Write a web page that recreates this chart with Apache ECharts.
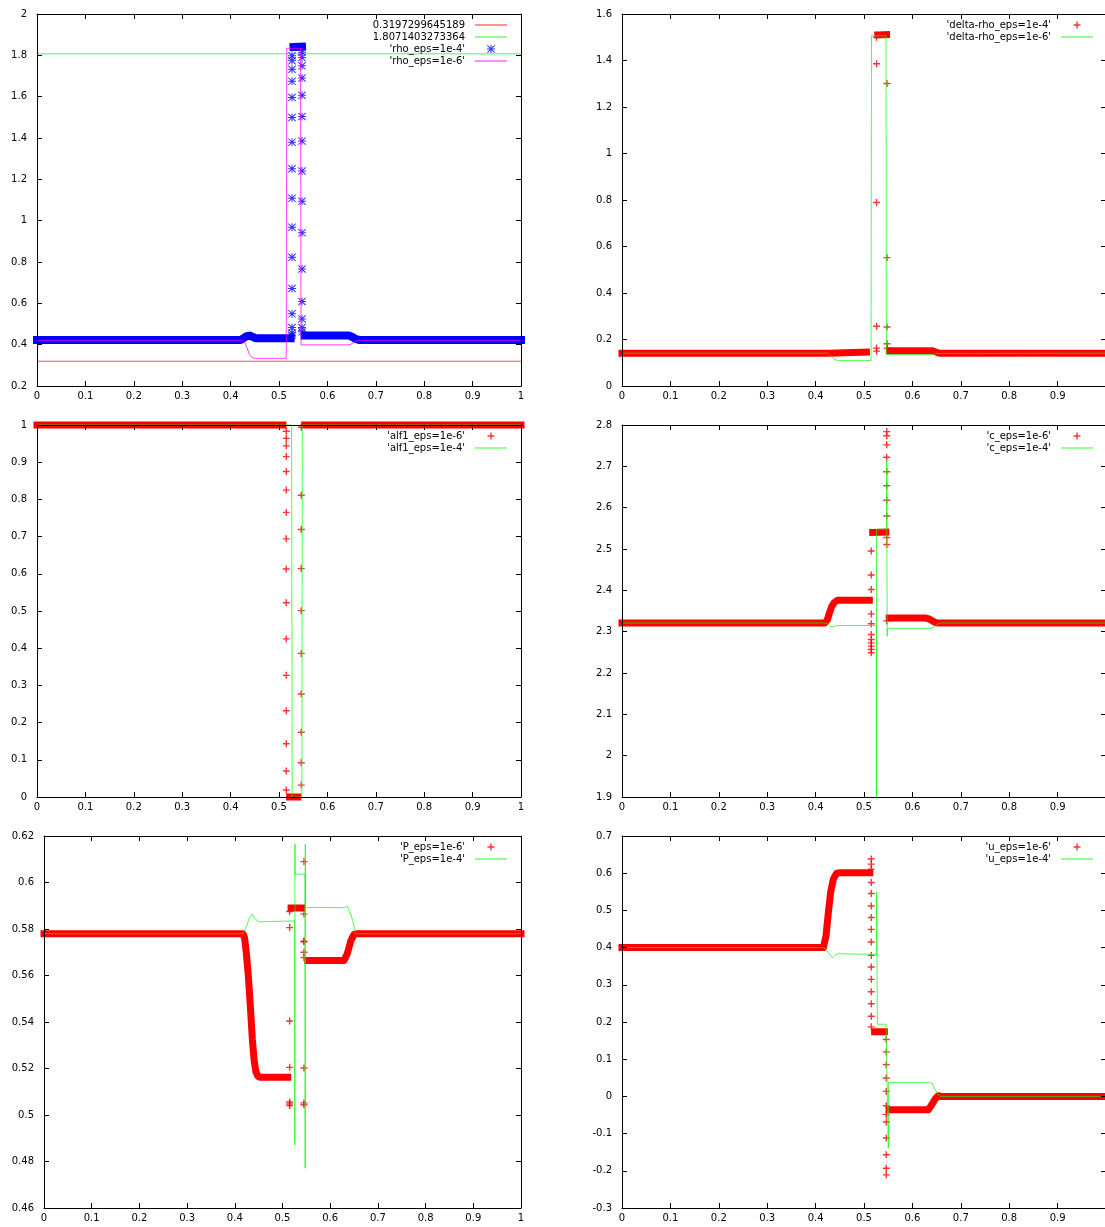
<!DOCTYPE html>
<html>
<head>
<meta charset="utf-8">
<title>eps comparison</title>
<script src="https://cdn.jsdelivr.net/npm/echarts@6.0.0/dist/echarts.min.js"></script>
<style>
html,body{margin:0;padding:0;background:#ffffff;}
#chart{width:1105px;height:1227px;}
</style>
</head>
<body>
<div id="chart"></div>
<script>
// ---------- axis ranges [min, max, interval] ----------
const xRange = [0, 1, 0.1];
const rhoRange = [0.2, 2, 0.2];
const drhoRange = [0, 1.6, 0.2];
const alfRange = [0, 1, 0.1];
const cRange = [1.9, 2.8, 0.1];
const pRange = [0.46, 0.62, 0.02];
const uRange = [-0.3, 0.7, 0.1];

// ---------- panel 1 : rho ----------
const rhoConstLow = 0.3197299645189;
const rhoConstHigh = 1.8071403273364;
const rho4BandLeft = [[0,0.423],[0.421,0.423],[0.427,0.432],[0.433,0.441],[0.44,0.444],[0.446,0.437],[0.452,0.431],[0.524,0.431]];
const rho4BandTop = [[0.530,1.84],[0.5475,1.842]];
const rho4BandRight = [[0.553,0.444],[0.645,0.444],[0.652,0.437],[0.658,0.428],[0.665,0.423],[1,0.423]];
const rho4ColLeftX = 0.527;
const rho4ColLeftY = [1.798,1.774,1.733,1.674,1.596,1.499,1.380,1.251,1.108,0.968,0.823,0.672,0.549,0.483,0.457,0.445];
const rho4ColRightX = 0.5475;
const rho4ColRightY = [1.815,1.790,1.749,1.690,1.607,1.504,1.385,1.240,1.094,0.941,0.766,0.609,0.524,0.483,0.462];
const rho6Line = [[0,0.421],[0.424,0.421],[0.429,0.412],[0.434,0.385],[0.439,0.352],[0.444,0.338],[0.45,0.334],[0.515,0.334],[0.516,1.834],[0.5445,1.834],[0.5455,0.399],[0.641,0.399],[0.647,0.401],[0.653,0.408],[0.659,0.416],[0.665,0.421],[1,0.421]];

// ---------- panel 2 : delta-rho ----------
const drho4BandLeft = [[0,0.141],[0.427,0.141],[0.43,0.146],[0.505,0.146]];
const drho4BandTop = [[0.5285,1.51],[0.5465,1.511]];
const drho4BandRight = [[0.5525,0.152],[0.64,0.152],[0.646,0.148],[0.652,0.143],[0.658,0.141],[1,0.141]];
const drho4ColLeftX = 0.526;
const drho4ColLeftY = [1.50,1.386,0.789,0.257,0.163,0.15];
const drho4ColRightX = 0.5475;
const drho4ColRightY = [1.301,0.552,0.254,0.182,0.163];
const drho6Line = [[0,0.141],[0.425,0.141],[0.429,0.137],[0.434,0.124],[0.439,0.114],[0.445,0.11],[0.5145,0.11],[0.5155,1.506],[0.5455,1.506],[0.5462,0.135],[0.64,0.135],[0.646,0.137],[0.652,0.14],[1,0.141]];

// ---------- panel 3 : alf1 ----------
const alf6BandLeft = [[0,1],[0.508,1]];
const alf6BandBottom = [[0.522,0],[0.539,0]];
const alf6BandRight = [[0.553,1],[1,1]];
const alf6ColLeftX = 0.515;
const alf6ColLeftY = [0.983,0.964,0.944,0.915,0.875,0.825,0.765,0.694,0.613,0.522,0.425,0.327,0.232,0.143,0.070,0.019];
const alf6ColRightX = 0.546;
const alf6ColRightY = [0.994,0.811,0.719,0.614,0.501,0.386,0.277,0.174,0.092,0.032];
const alf4Line = [[0,1],[0.526,1],[0.5272,0],[0.5472,0],[0.5482,1],[1,1]];

// ---------- panel 4 : c ----------
const c6BandLeft = [[0,2.321],[0.419,2.321],[0.424,2.328],[0.428,2.343],[0.433,2.36],[0.438,2.37],[0.445,2.376],[0.511,2.376]];
const c6BandTop = [[0.518,2.54],[0.545,2.541]];
const c6BandRight = [[0.552,2.333],[0.628,2.333],[0.634,2.331],[0.640,2.327],[0.646,2.323],[0.651,2.321],[1,2.321]];
const c6ColLeftX = 0.515;
const c6ColLeftY = [2.495,2.437,2.402,2.343,2.319,2.293,2.281,2.273,2.265,2.257,2.249];
const c6ColRightX = 0.547;
const c6ColRightY = [2.784,2.774,2.752,2.722,2.687,2.653,2.618,2.580,2.528,2.511,2.326];
const c4Line = [[0,2.321],[0.42,2.321],[0.426,2.318],[0.431,2.312],[0.436,2.311],[0.441,2.314],[0.447,2.315],[0.5255,2.315],[0.5257,1.85],[0.5259,2.548],[0.5467,2.548],[0.547,2.713],[0.5478,2.289],[0.5482,2.308],[0.638,2.308],[0.645,2.311],[0.652,2.318],[0.658,2.321],[1,2.321]];

// ---------- panel 5 : P ----------
const p6BandLeft = [[0,0.578],[0.417,0.578],[0.4205,0.5762],[0.4245,0.569],[0.4285,0.5595],[0.4326,0.5468],[0.4368,0.5325],[0.4405,0.5235],[0.444,0.5188],[0.4486,0.5166],[0.453,0.5162],[0.511,0.5162]];
const p6BandTop = [[0.518,0.589],[0.540,0.589]];
const p6BandRight = [[0.553,0.5665],[0.629,0.5665],[0.636,0.5695],[0.643,0.5748],[0.65,0.5777],[0.657,0.578],[1,0.578]];
const p6ColLeftX = 0.515;
const p6ColLeftY = [0.5875,0.5806,0.5404,0.5205,0.5056,0.5048,0.5041];
const p6ColRightX = 0.545;
const p6ColRightY = [0.609,0.5864,0.5748,0.5745,0.570,0.5677,0.5202,0.5052,0.5044];
const p4Line = [[0,0.578],[0.4174,0.578],[0.4243,0.5811],[0.4313,0.585],[0.4368,0.5864],[0.4417,0.5845],[0.4507,0.5831],[0.5255,0.5835],[0.5258,0.4872],[0.5261,0.6166],[0.5264,0.6036],[0.5472,0.6036],[0.5475,0.4771],[0.5478,0.6166],[0.5481,0.5893],[0.629,0.5892],[0.636,0.5898],[0.641,0.5875],[0.6465,0.5842],[0.6535,0.578],[1,0.578]];

// ---------- panel 6 : u ----------
const u6BandLeft = [[0,0.4],[0.416,0.4],[0.4215,0.431],[0.4263,0.494],[0.431,0.548],[0.4366,0.584],[0.4435,0.6],[0.4504,0.601],[0.512,0.601]];
const u6BandMid = [[0.522,0.1736],[0.542,0.1736]];
const u6BandRight = [[0.552,-0.0358],[0.633,-0.0358],[0.64,-0.0224],[0.647,-0.007],[0.6535,0.0019],[0.658,0],[1,0]];
const u6ColLeftX = 0.515;
const u6ColLeftY = [0.638,0.6245,0.611,0.575,0.5456,0.512,0.481,0.449,0.415,0.379,0.348,0.3146,0.2814,0.249,0.2156,0.187];
const u6ColRightX = 0.546;
const u6ColRightY = [0.153,0.1196,0.0854,0.0495,0.0135,-0.025,-0.049,-0.069,-0.112,-0.157,-0.193,-0.211];
const u4Line = [[0,0.4],[0.416,0.4],[0.422,0.395],[0.428,0.383],[0.4353,0.373],[0.441,0.38],[0.449,0.3846],[0.456,0.383],[0.526,0.382],[0.5262,0.55],[0.5276,0.194],[0.5455,0.194],[0.547,0.19],[0.5503,-0.139],[0.5506,0.0377],[0.633,0.0377],[0.6365,0.040],[0.641,0.035],[0.647,0.018],[0.653,0.005],[0.658,0],[1,0]];

// ---------- styling / layout ----------
const FONT = 'DejaVu Sans';
const RED = '#ff0000';
const BLUE = '#0000ff';
const THIN_RED = 'rgba(255,0,0,0.7)';
const THIN_GREEN = 'rgba(0,255,0,0.7)';
const THIN_MAGENTA = 'rgba(255,0,255,0.75)';
const PLUS = 'path://M0,2.8H7V4.2H0Z M2.8,0H4.2V7H2.8Z';
const STAR = 'path://M0,3.5H8V4.5H0Z M3.5,0H4.5V8H3.5Z M0.7,0L8,7.3L7.3,8L0,0.7Z M7.3,0L8,0.7L0.7,8L0,7.3Z';
const LINE_ICON = 'path://M0,0H32V1.2H0Z';

const grids = [
  {left:37, top:14, width:484, height:372},
  {left:622, top:14, width:484, height:372},
  {left:37, top:425, width:484, height:372},
  {left:622, top:425, width:484, height:372},
  {left:44, top:836, width:477, height:372},
  {left:622, top:836, width:484, height:372}
];
const yRanges = [rhoRange, drhoRange, alfRange, cRange, pRange, uRange];
const rightSide = [false, true, false, true, false, true];

const xAxes = [], yAxes = [];
grids.forEach((g, i) => {
  const common = {
    type:'value', gridIndex:i, z:10,
    splitLine:{show:false},
    axisLine:{show:true, onZero:false, lineStyle:{color:'#000', width:1}},
    axisTick:{show:true, inside:true, length:5, lineStyle:{color:'#000', width:1}}
  };
  const lab = {color:'#000', fontFamily:FONT, fontSize:10};
  const xc = Object.assign({}, common, {min:xRange[0], max:xRange[1], interval:xRange[2]});
  xAxes.push(Object.assign({}, xc, {position:'bottom',
    axisLabel:Object.assign({show:true, margin:5, showMinLabel:true, showMaxLabel:!rightSide[i]}, lab)}));
  xAxes.push(Object.assign({}, xc, {position:'top', axisLabel:{show:false}}));
  const r = yRanges[i];
  const yc = Object.assign({}, common, {min:r[0], max:r[1], interval:r[2]});
  yAxes.push(Object.assign({}, yc, {position:'left',
    axisLabel:Object.assign({show:true, margin:10, showMinLabel:true, showMaxLabel:true}, lab)}));
  yAxes.push(Object.assign({}, yc, {position:'right', axisLabel:{show:false}}));
});

function thickLine(name, pts, color, width, gi) {
  return {type:'line', name:name, xAxisIndex:2*gi, yAxisIndex:2*gi, data:pts,
    symbol:'none', showSymbol:false, clip:false, silent:true, z:2,
    lineStyle:{color:color, width:width, cap:'square', join:'round'}, itemStyle:{color:color}};
}
function thinLine(name, pts, color, gi, clip, z) {
  return {type:'line', name:name, xAxisIndex:2*gi, yAxisIndex:2*gi, data:pts,
    symbol:'none', showSymbol:false, clip:clip, silent:true, z:(z === undefined ? 3 : z),
    lineStyle:{color:color, width:1}, itemStyle:{color:color}};
}
function marks(name, cols, symbol, size, color, gi) {
  const data = [];
  cols.forEach(c => c[1].forEach(y => data.push([c[0], y])));
  return {type:'scatter', name:name, xAxisIndex:2*gi, yAxisIndex:2*gi, data:data,
    symbol:symbol, symbolSize:size, clip:false, silent:true, z:2, itemStyle:{color:color}};
}

const nLow = String(rhoConstLow), nHigh = String(rhoConstHigh);
const series = [
  // panel 1
  thinLine(nLow, [[xRange[0], rhoConstLow],[xRange[1], rhoConstLow]], THIN_RED, 0, true, 1),
  thinLine(nHigh, [[xRange[0], rhoConstHigh],[xRange[1], rhoConstHigh]], THIN_GREEN, 0, true, 1),
  thickLine('rho4 band a', rho4BandLeft, BLUE, 8, 0),
  thickLine('rho4 band b', rho4BandTop, BLUE, 8, 0),
  thickLine('rho4 band c', rho4BandRight, BLUE, 8, 0),
  marks("'rho_eps=1e-4'", [[rho4ColLeftX, rho4ColLeftY],[rho4ColRightX, rho4ColRightY]], STAR, 8, BLUE, 0),
  thinLine("'rho_eps=1e-6'", rho6Line, THIN_MAGENTA, 0, true),
  // panel 2
  thickLine('drho band a', drho4BandLeft, RED, 7, 1),
  thickLine('drho band b', drho4BandTop, RED, 7, 1),
  thickLine('drho band c', drho4BandRight, RED, 7, 1),
  marks("'delta-rho_eps=1e-4'", [[drho4ColLeftX, drho4ColLeftY],[drho4ColRightX, drho4ColRightY]], PLUS, 7, RED, 1),
  thinLine("'delta-rho_eps=1e-6'", drho6Line, THIN_GREEN, 1, true),
  // panel 3
  thickLine('alf band a', alf6BandLeft, RED, 7, 2),
  thickLine('alf band b', alf6BandBottom, RED, 7, 2),
  thickLine('alf band c', alf6BandRight, RED, 7, 2),
  marks("'alf1_eps=1e-6'", [[alf6ColLeftX, alf6ColLeftY],[alf6ColRightX, alf6ColRightY]], PLUS, 7, RED, 2),
  thinLine("'alf1_eps=1e-4'", alf4Line, THIN_GREEN, 2, false),
  // panel 4
  thickLine('c band a', c6BandLeft, RED, 7, 3),
  thickLine('c band b', c6BandTop, RED, 7, 3),
  thickLine('c band c', c6BandRight, RED, 7, 3),
  marks("'c_eps=1e-6'", [[c6ColLeftX, c6ColLeftY],[c6ColRightX, c6ColRightY]], PLUS, 7, RED, 3),
  thinLine("'c_eps=1e-4'", c4Line, THIN_GREEN, 3, true),
  // panel 5
  thickLine('p band a', p6BandLeft, RED, 7, 4),
  thickLine('p band b', p6BandTop, RED, 7, 4),
  thickLine('p band c', p6BandRight, RED, 7, 4),
  marks("'P_eps=1e-6'", [[p6ColLeftX, p6ColLeftY],[p6ColRightX, p6ColRightY]], PLUS, 7, RED, 4),
  thinLine("'P_eps=1e-4'", p4Line, THIN_GREEN, 4, true),
  // panel 6
  thickLine('u band a', u6BandLeft, RED, 7, 5),
  thickLine('u band b', u6BandMid, RED, 7, 5),
  thickLine('u band c', u6BandRight, RED, 7, 5),
  marks("'u_eps=1e-6'", [[u6ColLeftX, u6ColLeftY],[u6ColRightX, u6ColRightY]], PLUS, 7, RED, 5),
  thinLine("'u_eps=1e-4'", u4Line, THIN_GREEN, 5, true)
];

function lineItem(name) { return {name:name, icon:LINE_ICON}; }
function makeLegend(items, right, top, iconH) {
  return {
    data:items, orient:'vertical', align:'right', right:right, top:top,
    itemWidth:32, itemHeight:iconH, itemGap:0, padding:0, selectedMode:false,
    textStyle:{fontFamily:FONT, fontSize:10, color:'#000', lineHeight:12, padding:[0,5,0,0]}
  };
}
const legends = [
  makeLegend([lineItem(nLow), lineItem(nHigh), {name:"'rho_eps=1e-4'", icon:STAR}, lineItem("'rho_eps=1e-6'")], 598, 19, 8),
  makeLegend([{name:"'delta-rho_eps=1e-4'", icon:PLUS}, lineItem("'delta-rho_eps=1e-6'")], 12, 19, 7),
  makeLegend([{name:"'alf1_eps=1e-6'", icon:PLUS}, lineItem("'alf1_eps=1e-4'")], 598, 430, 7),
  makeLegend([{name:"'c_eps=1e-6'", icon:PLUS}, lineItem("'c_eps=1e-4'")], 12, 430, 7),
  makeLegend([{name:"'P_eps=1e-6'", icon:PLUS}, lineItem("'P_eps=1e-4'")], 598, 841, 7),
  makeLegend([{name:"'u_eps=1e-6'", icon:PLUS}, lineItem("'u_eps=1e-4'")], 12, 841, 7)
];

const chart = echarts.init(document.getElementById('chart'), null, {renderer:'canvas'});
chart.setOption({
  animation:false,
  backgroundColor:'#ffffff',
  textStyle:{fontFamily:FONT},
  grid:grids.map(g => Object.assign({containLabel:false, outerBoundsMode:'none'}, g)),
  xAxis:xAxes,
  yAxis:yAxes,
  legend:legends,
  series:series
});
</script>
</body>
</html>
